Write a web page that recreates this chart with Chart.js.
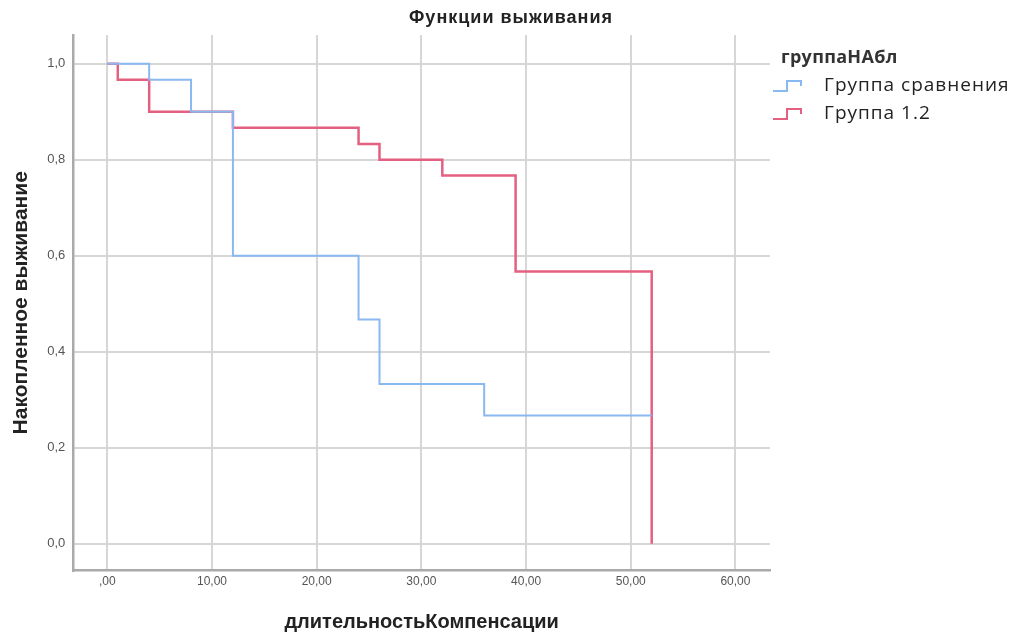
<!DOCTYPE html>
<html>
<head>
<meta charset="utf-8">
<script src="https://cdn.jsdelivr.net/npm/chart.js@4.4.1/dist/chart.umd.min.js"></script>
<style>
html,body{margin:0;padding:0;background:#fff;}
#wrap{width:1021px;height:636px;position:relative;}
</style>
</head>
<body>
<div id="wrap"><canvas id="c"></canvas></div>
<script>
const chartTitle = 'Функции выживания';
const xAxisTitle = 'длительностьКомпенсации';
const yAxisTitle = 'Накопленное выживание';
const legendTitle = 'группаНАбл';
const seriesNames = ['Группа сравнения', 'Группа 1.2'];

const timesComparison = [0, 4, 8, 12, 24, 26, 36, 52];
const survComparison  = [1.0, 0.967, 0.9, 0.6, 0.467, 0.333, 0.267, 0.267];

const timesGroup12 = [0, 1, 4, 12, 24, 26, 32, 39, 52];
const survGroup12  = [1.0, 0.967, 0.9, 0.867, 0.833, 0.8, 0.767, 0.567, 0.0];

const xTicks = [0, 10, 20, 30, 40, 50, 60];
const xTickLabels = [',00', '10,00', '20,00', '30,00', '40,00', '50,00', '60,00'];
const yTicks = [0, 0.2, 0.4, 0.6, 0.8, 1.0];
const yTickLabels = ['0,0', '0,2', '0,4', '0,6', '0,8', '1,0'];

const blue = 'rgb(138,184,240)';
const red = 'rgb(228,96,128)';

function toPoints(xs, ys){ return xs.map((x,i)=>({x:x, y:ys[i]})); }

const legendPlugin = {
  id: 'customLegend',
  afterDraw(chart){
    const ctx = chart.ctx;
    ctx.save();
    // chart title
    ctx.fillStyle = '#222';
    ctx.letterSpacing = '1px';
    ctx.font = 'bold 18px "Liberation Sans", Arial, sans-serif';
    ctx.textAlign = 'center';
    ctx.textBaseline = 'middle';
    ctx.fillText(chartTitle, 511, 18);
    // legend title
    ctx.textAlign = 'left';
    ctx.letterSpacing = '0.3px';
    ctx.font = 'bold 18px "Open Sans", "Noto Sans", sans-serif';
    ctx.fillStyle = '#333';
    ctx.fillText(legendTitle, 781, 58);
    const cols = [blue, red];
    const ys = [86, 114];
    ctx.letterSpacing = '1px';
    ctx.font = '19px "Open Sans", "Noto Sans", sans-serif';
    for (let i=0;i<2;i++){
      const y = ys[i];
      ctx.strokeStyle = cols[i];
      ctx.lineWidth = 2;
      ctx.beginPath();
      ctx.moveTo(773, y+5);
      ctx.lineTo(787, y+5);
      ctx.lineTo(787, y-5);
      ctx.lineTo(801, y-5);
      ctx.lineTo(801, y);
      ctx.stroke();
      ctx.fillStyle = '#222';
      ctx.fillText(seriesNames[i], 824, y);
    }
    ctx.restore();
  }
};

new Chart(document.getElementById('c'), {
  type: 'line',
  data: {
    datasets: [
      {
        label: seriesNames[0],
        data: toPoints(timesComparison, survComparison),
        borderColor: blue,
        borderWidth: 2,
        stepped: 'before',
        pointRadius: 0,
        fill: false
      },
      {
        label: seriesNames[1],
        data: toPoints(timesGroup12, survGroup12),
        borderColor: red,
        borderWidth: 2.5,
        stepped: 'before',
        pointRadius: 0,
        fill: false
      }
    ]
  },
  options: {
    responsive: true,
    maintainAspectRatio: false,
    animation: false,
    layout: { padding: { left: 9, right: 251, top: 35, bottom: 2 } },
    plugins: {
      legend: { display: false },
      title: { display: false },
      tooltip: { enabled: false }
    },
    scales: {
      x: {
        type: 'linear',
        min: -3.25,
        max: 63.3,
        afterBuildTicks(scale){ scale.ticks = xTicks.map(v=>({value:v})); },
        ticks: {
          autoSkip: false,
          maxRotation: 0,
          padding: 4,
          color: '#555',
          font: { family: '"Liberation Sans Narrow", "Liberation Sans", Arial, sans-serif', size: 12 },
          callback(v){ const i = xTicks.indexOf(v); return i>=0 ? xTickLabels[i] : ''; }
        },
        grid: { color: '#d6d6d6', lineWidth: 2, drawTicks: false },
        border: { color: '#aaaaaa', width: 2.5 },
        title: {
          display: true,
          text: xAxisTitle,
          color: '#222',
          font: { family: '"Liberation Sans", Arial, sans-serif', size: 20, weight: 'bold' },
          padding: { top: 17, bottom: 0 }
        }
      },
      y: {
        type: 'linear',
        min: -0.056,
        max: 1.06,
        afterBuildTicks(scale){ scale.ticks = yTicks.map(v=>({value:v})); },
        ticks: {
          autoSkip: false,
          padding: 8,
          color: '#555',
          font: { family: '"Liberation Sans Narrow", "Liberation Sans", Arial, sans-serif', size: 13 },
          callback(v){ const i = yTicks.findIndex(t=>Math.abs(t-v)<1e-9); return i>=0 ? yTickLabels[i] : ''; }
        },
        grid: { color: '#d6d6d6', lineWidth: 2, drawTicks: false },
        border: { color: '#aaaaaa', width: 2.5 },
        title: {
          display: true,
          text: yAxisTitle,
          color: '#222',
          font: { family: '"Liberation Sans", Arial, sans-serif', size: 21, weight: 'bold' },
          padding: { top: 0, bottom: 5 }
        }
      }
    }
  },
  plugins: [legendPlugin]
});
</script>
</body>
</html>
